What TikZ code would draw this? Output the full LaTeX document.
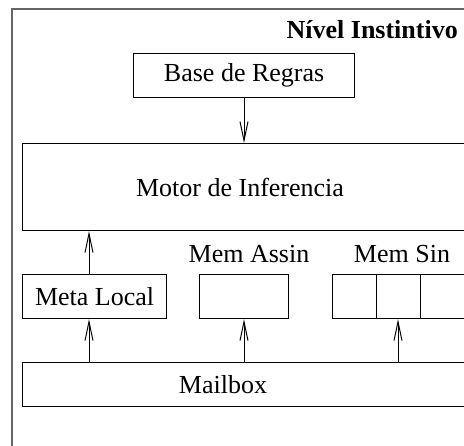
\documentclass[tikz,border=0pt]{standalone}
\usepackage{fontspec}
\setmainfont{Liberation Serif}
\usetikzlibrary{arrows.meta}
\begin{document}
\begin{tikzpicture}[x=1pt,y=-1pt,
  box/.style={draw=black,line width=1.2pt,minimum height=44pt,inner sep=0pt,anchor=north west},
  txt/.style={font=\fontsize{26}{30}\selectfont,inner sep=0pt},
  arr/.style={line width=1pt,-{Straight Barb[length=19pt,width=8pt,line width=1pt]}}]
\useasboundingbox (0,0) rectangle (464,446);
\clip (0,0) rectangle (464,446);
\draw[draw=black!60,line width=2pt] (12,470) -- (12,9) -- (480,9);
\node[txt,font=\fontsize{26}{30}\selectfont\bfseries,anchor=base east] (title) at (458,39) {Nível Instintivo};
\node[box,minimum width=221pt] (base) at (133,53) {};
\node[txt] at (base.center) {Base de Regras};
\node[box,minimum width=470pt,minimum height=87pt] (motor) at (22,143) {};
\node[txt] (motortxt) at (240,187) {Motor de Inferencia};
\node[box,minimum width=144pt] (meta) at (22,274) {};
\node[txt] at (meta.center) {Meta Local};
\node[box,minimum width=89pt] (assin) at (199,274) {};
\node[txt,anchor=base] (assinlbl) at (249,263) {Mem Assin};
\node[box,minimum width=44pt] (s1) at (332,274) {};
\node[box,minimum width=44pt] (s2) at (376,274) {};
\node[box,minimum width=44pt] (s3) at (420,274) {};
\node[txt,anchor=base] (sinlbl) at (402,263) {Mem Sin};
\node[box,minimum width=470pt] (mail) at (22,362) {};
\node[txt] (mailtxt) at (223,385) {Mailbox};
\draw[arr] (base.south -| 244,0) -- (motor.north -| 244,0);
\draw[arr] (meta.north -| 89,0) -- (motor.south -| 89,0);
\draw[arr] (mail.north -| 89,0) -- (meta.south -| 89,0);
\draw[arr] (mail.north -| 244,0) -- (assin.south -| 244,0);
\draw[arr] (mail.north -| 398,0) -- (s2.south -| 398,0);
\end{tikzpicture}
\end{document}
